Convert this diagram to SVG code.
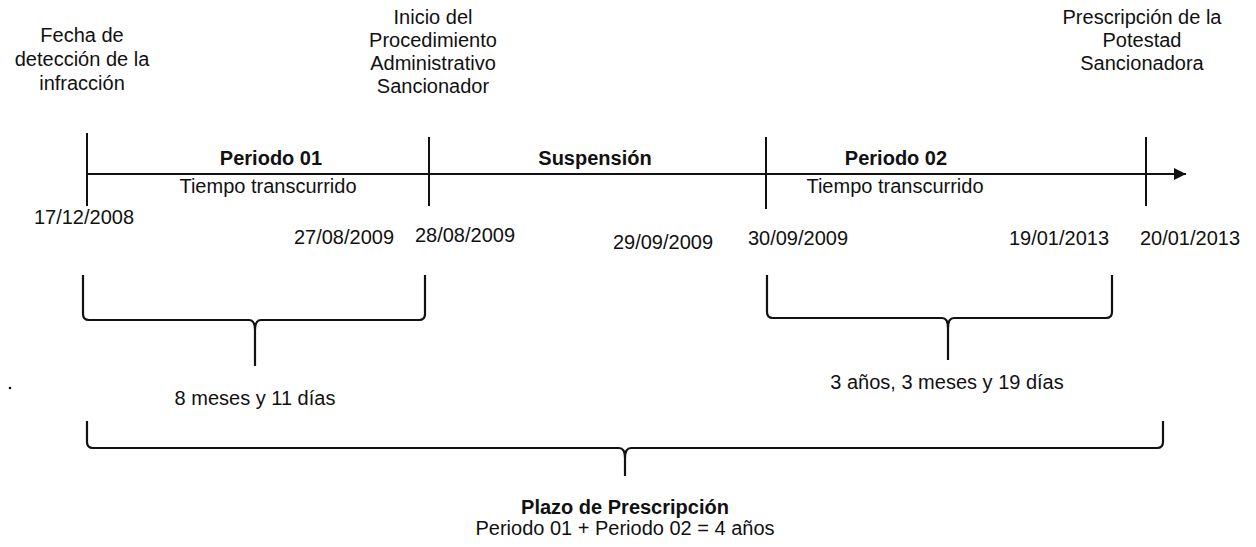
<svg xmlns="http://www.w3.org/2000/svg" width="1256" height="547" viewBox="0 0 1256 547">
<style>
text{font-family:"Liberation Sans",Arial,sans-serif;font-size:20px;fill:#111;text-anchor:middle}
.b{font-weight:bold}
.ln{stroke:#111;stroke-width:2;fill:none}
.br{stroke:#111;stroke-width:2.2;fill:none;stroke-linejoin:round}
</style>
<defs>
<marker id="ah" markerWidth="14" markerHeight="14" refX="12" refY="6" orient="auto" markerUnits="userSpaceOnUse">
<path d="M0,0 L12,6 L0,12 Z" fill="#111"/>
</marker>
</defs>
<rect width="1256" height="547" fill="#fff"/>
<g id="connectors">
<line class="ln" x1="87" y1="174" x2="1186" y2="174" marker-end="url(#ah)"/>
<line class="ln" x1="87" y1="133" x2="87" y2="206"/>
<line class="ln" x1="429" y1="137" x2="429" y2="206"/>
<line class="ln" x1="766" y1="137" x2="766" y2="209"/>
<line class="ln" x1="1146" y1="137" x2="1146" y2="206"/>
<path class="br" d="M83,275 V314 Q83,320 89,320 H249 Q255,320 255,330 V366 M255,330 Q255,320 261,320 H419 Q425,320 425,314 V275"/>
<path class="br" d="M767,275 V312 Q767,318 773,318 H942 Q948,318 948,328 V360 M948,328 Q948,318 954,318 H1106 Q1112,318 1112,312 V275"/>
<path class="br" d="M87,421 V442 Q87,448 93,448 H619 Q625,448 625,458 V476 M625,458 Q625,448 631,448 H1157 Q1163,448 1163,442 V421"/>
<circle cx="10" cy="388" r="1.3" fill="#111"/>
</g>
<g id="ev-deteccion">
<text x="82" y="42">Fecha de</text>
<text x="82" y="66">detección de la</text>
<text x="82" y="90">infracción</text>
</g>
<g id="ev-inicio">
<text x="433" y="24">Inicio del</text>
<text x="433" y="47">Procedimiento</text>
<text x="433" y="70">Administrativo</text>
<text x="433" y="93">Sancionador</text>
</g>
<g id="ev-prescripcion">
<text x="1142" y="24">Prescripción de la</text>
<text x="1142" y="47">Potestad</text>
<text x="1142" y="70">Sancionadora</text>
</g>
<g id="periodo01">
<text class="b" x="271" y="165">Periodo 01</text>
<text x="268" y="193">Tiempo transcurrido</text>
</g>
<g id="suspension">
<text class="b" x="595" y="165">Suspensión</text>
</g>
<g id="periodo02">
<text class="b" x="896" y="165">Periodo 02</text>
<text x="895" y="193">Tiempo transcurrido</text>
</g>
<g id="dates">
<text x="84" y="224">17/12/2008</text>
<text x="344" y="244">27/08/2009</text>
<text x="465" y="242">28/08/2009</text>
<text x="663" y="249">29/09/2009</text>
<text x="798" y="245">30/09/2009</text>
<text x="1059" y="245">19/01/2013</text>
<text x="1190" y="245">20/01/2013</text>
</g>
<g id="dur01">
<text x="255" y="405">8 meses y 11 días</text>
</g>
<g id="dur02">
<text x="947" y="389">3 años, 3 meses y 19 días</text>
</g>
<g id="plazo">
<text class="b" x="625" y="514">Plazo de Prescripción</text>
<text x="625" y="535">Periodo 01 + Periodo 02 = 4 años</text>
</g>
</svg>
